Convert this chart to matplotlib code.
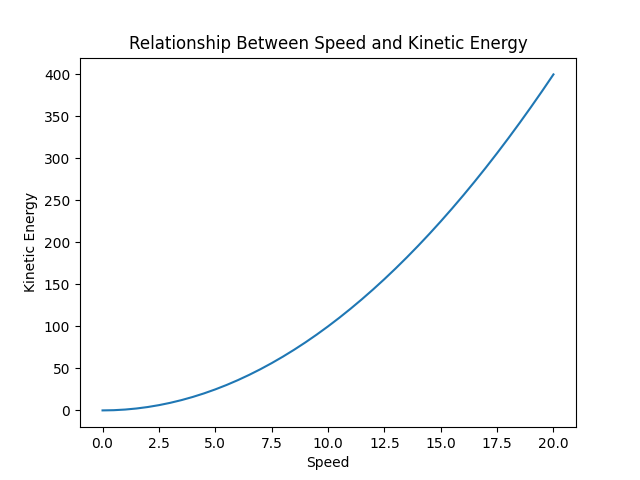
import matplotlib
matplotlib.use("Agg")
import matplotlib.pyplot as plt

# values
speed = [0, 0.5, 1, 1.5, 2, 2.5, 3, 3.5, 4, 4.5, 5, 5.5, 6, 6.5, 7, 7.5, 8, 8.5,
         9, 9.5, 10, 10.5, 11, 11.5, 12, 12.5, 13, 13.5, 14, 14.5, 15, 15.5,
         16, 16.5, 17, 17.5, 18, 18.5, 19, 19.5, 20]
kinetic_energy = [0, 0.25, 1, 2.25, 4, 6.25, 9, 12.25, 16, 20.25, 25, 30.25,
                  36, 42.25, 49, 56.25, 64, 72.25, 81, 90.25, 100, 110.25,
                  121, 132.25, 144, 156.25, 169, 182.25, 196, 210.25, 225,
                  240.25, 256, 272.25, 289, 306.25, 324, 342.25, 361, 380.25,
                  400]

fig, ax = plt.subplots(figsize=(6.4, 4.8), dpi=100)
ax.plot(speed, kinetic_energy, color='#1f77b4')

ax.set_title('Relationship Between Speed and Kinetic Energy')
ax.set_xlabel('Speed')
ax.set_ylabel('Kinetic Energy')

fig.savefig('out.png')
